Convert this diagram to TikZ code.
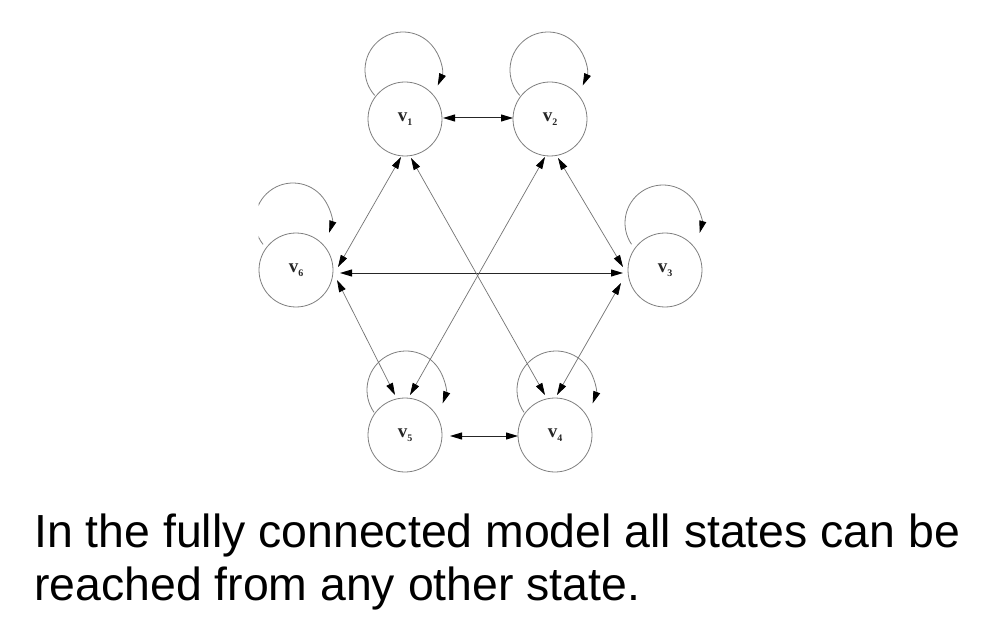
\documentclass[tikz,border=0pt]{standalone}
\usepackage{fontspec}
\setmainfont{Liberation Sans}
\newfontfamily\labfont{Liberation Serif}
\usetikzlibrary{arrows.meta}
\newcommand{\vlab}[1]{\labfont\bfseries\fontsize{19bp}{19bp}\selectfont v\raisebox{-3.5bp}{\fontsize{10bp}{10bp}\selectfont #1}}
\begin{document}
\begin{tikzpicture}[x=1bp,y=-1bp,
  >={Triangle[length=12bp,width=7bp,color=black]},
  state/.style={circle,draw=black!50,line width=0.8bp,minimum size=74bp,inner sep=0pt,text=black!85},
  edge/.style={draw=black!55,line width=0.7bp,<->},
  hedge/.style={draw=black!85,line width=1bp,<->},
  selfloop/.style={draw=black!50,line width=0.8bp,->},
  caption/.style={anchor=base west,inner sep=0pt,font=\fontsize{46.4bp}{53bp}\selectfont}]
\useasboundingbox (0,0) rectangle (993,618);
\fill[white] (0,0) rectangle (993,618);

\node[state] (v1) at (405,119) {\vlab{1}};
\node[state] (v2) at (550,119) {\vlab{2}};
\node[state] (v3) at (665,270) {\vlab{3}};
\node[state] (v4) at (555,435) {\vlab{4}};
\node[state] (v5) at (405,435) {\vlab{5}};
\node[state] (v6) at (296,270) {\vlab{6}};

% self loops
\draw[selfloop] ([shift={(-2,-49)}]v1.center) ++(138:38) arc[start angle=138,end angle=384,radius=38];
\draw[selfloop] ([shift={(-2,-49)}]v2.center) ++(138:38) arc[start angle=138,end angle=384,radius=38];
\draw[selfloop] ([shift={(-2,-47)}]v3.center) ++(146:38) arc[start angle=146,end angle=375,radius=38];
\begin{scope}
\clip (258.5,0) rectangle (993,618);
\draw[selfloop] ([shift={(-3,-49)}]v6.center) ++(142:38) arc[start angle=142,end angle=378,radius=38];
\end{scope}
\draw[selfloop] ([shift={(1,-45)}]v5.center) ++(145:39) arc[start angle=145,end angle=380,radius=39];
\draw[selfloop] ([shift={(1,-45)}]v4.center) ++(145:39) arc[start angle=145,end angle=380,radius=39];

% horizontal edges
\draw[hedge] ([shift={(38,-1)}]v1.center) -- ([shift={(-37,-1)}]v2.center);
\draw[hedge] ([shift={(44,3)}]v6.center) -- ([shift={(-42,3)}]v3.center);
\draw[hedge] ([shift={(45,1)}]v5.center) -- ([shift={(-37,1)}]v4.center);

% diagonal edges
\draw[edge] ([shift={(-4,38)}]v1.center) -- ([shift={(42,-3)}]v6.center);
\draw[edge] ([shift={(6,39)}]v1.center) -- ([shift={(-10,-40)}]v4.center);
\draw[edge] ([shift={(-5,38)}]v2.center) -- ([shift={(5,-40)}]v5.center);
\draw[edge] ([shift={(8,39)}]v2.center) -- ([shift={(-42,-3)}]v3.center);
\draw[edge] ([shift={(41,10)}]v6.center) -- ([shift={(-10,-40)}]v5.center);
\draw[edge] ([shift={(-44,13)}]v3.center) -- ([shift={(2,-40)}]v4.center);

\node[caption] (t1) at (34,547) {In the fully connected model all states can be};
\node[caption] (t2) at (34,600) {reached from any other state.};
\end{tikzpicture}
\end{document}
